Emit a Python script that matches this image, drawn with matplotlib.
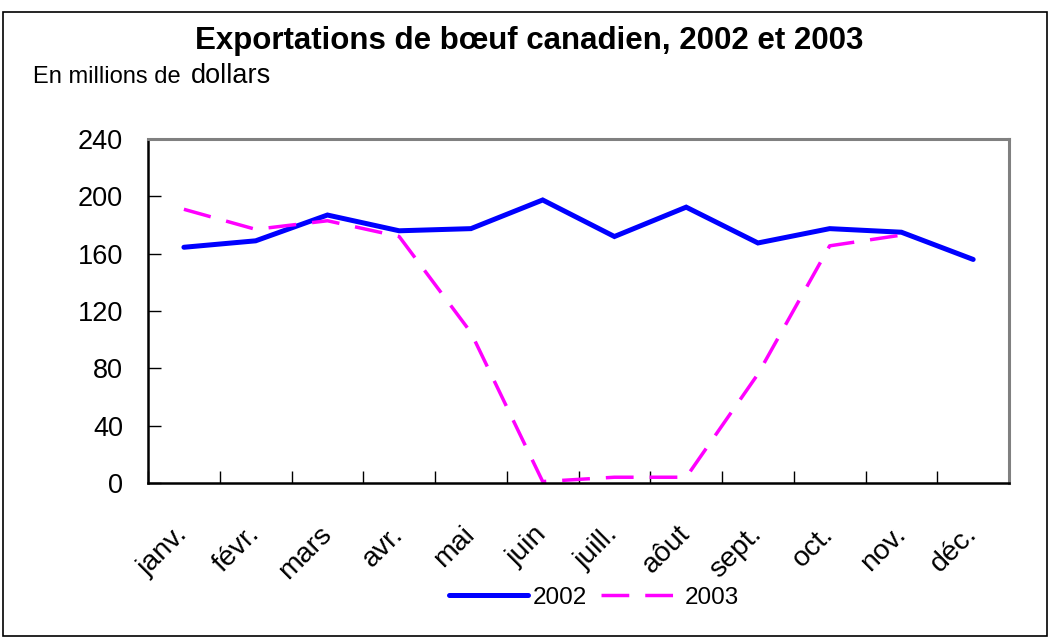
import matplotlib
matplotlib.use("Agg")
import matplotlib.pyplot as plt
from matplotlib.patches import Rectangle

plt.rcParams["font.family"] = ["Liberation Sans", "DejaVu Sans"]

months = ["janv.", "févr.", "mars", "avr.", "mai", "juin",
          "juill.", "aôut", "sept.", "oct.", "nov.", "déc."]
exports_2002 = [164.5, 169, 187, 176, 177.5, 197.5, 172, 192.5, 167.5, 177.5, 175, 156]
exports_2003 = [191, 177, 183, 172, 105, 1, 4, 4, 76, 165.5, 173]
y_ticks = [0, 40, 80, 120, 160, 200, 240]

fig = plt.figure(figsize=(10.5, 6.38), dpi=100)
fig.patches.append(Rectangle((0.003, 0.003), 0.994, 0.978, transform=fig.transFigure,
                             fill=False, edgecolor="black", linewidth=1.2))

ax = fig.add_axes([0.141, 0.243, 0.820, 0.539])
x = list(range(len(months)))
ax.plot(x, exports_2002, color="#0000FF", linewidth=3.6, label="2002",
        solid_capstyle="round", solid_joinstyle="miter")
ax.plot(x[:len(exports_2003)], exports_2003, color="#FF00FF", linewidth=2.5,
        dashes=(8, 4.6), label="2003")

ax.set_xlim(-0.5, len(months) - 0.5)
ax.set_ylim(0, 240)
ax.set_yticks(y_ticks)
ax.tick_params(axis="y", direction="in", length=9, width=1, labelsize=19.5, pad=18)

# tick marks sit between the months, labels at the month centres
ax.set_xticks([i - 0.5 for i in range(len(months) + 1)])
ax.set_xticklabels([])
ax.tick_params(axis="x", which="major", direction="in", length=9, width=1)
ax.set_xticks(x, minor=True)
ax.set_xticklabels(months, minor=True, rotation=45, ha="right",
                   rotation_mode="anchor", va="center", fontsize=20.5)
ax.tick_params(axis="x", which="minor", length=0, pad=34)

for side in ["left", "bottom"]:
    ax.spines[side].set_color("black")
    ax.spines[side].set_linewidth(1.8)
for side in ["top", "right"]:
    ax.spines[side].set_color("#808080")
    ax.spines[side].set_linewidth(2.2)

fig.text(0.504, 0.923, "Exportations de bœuf canadien, 2002 et 2003", ha="center",
         va="baseline", fontsize=22.5, fontweight="bold")
fig.text(0.031, 0.870, "En millions de", ha="left", va="baseline", fontsize=17)
fig.text(0.182, 0.870, "dollars", ha="left", va="baseline", fontsize=19.5)

ax.legend(loc="center", bbox_to_anchor=(0.566, 0.063), bbox_transform=fig.transFigure,
          ncol=2, frameon=False, fontsize=17.5, handlelength=3.25, handletextpad=0.2,
          columnspacing=0.58)

fig.savefig("out.png", dpi=100)
